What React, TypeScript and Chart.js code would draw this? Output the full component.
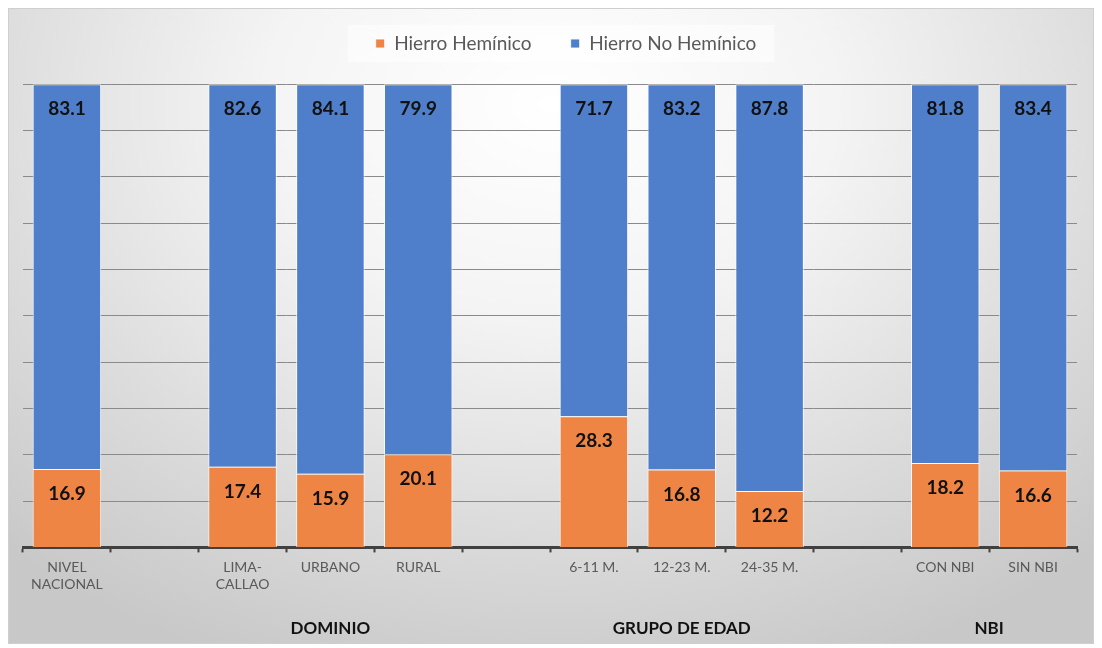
import React, { useEffect, useRef } from "react";
import { Chart, registerables } from "chart.js";

Chart.register(...registerables);

const categories: (string | string[])[] = [
  ["NIVEL", "NACIONAL"],
  "",
  ["LIMA-", "CALLAO"],
  "URBANO",
  "RURAL",
  "",
  "6-11 M.",
  "12-23 M.",
  "24-35 M.",
  "",
  "CON NBI",
  "SIN NBI",
];

const hemValues: (number | null)[] = [16.9, null, 17.4, 15.9, 20.1, null, 28.3, 16.8, 12.2, null, 18.2, 16.6];
const noHemValues: (number | null)[] = [83.1, null, 82.6, 84.1, 79.9, null, 71.7, 83.2, 87.8, null, 81.8, 83.4];

const seriesNames = ["Hierro Hemínico", "Hierro No Hemínico"];

const groupLabels = ["DOMINIO", "GRUPO DE EDAD", "NBI"];
const groupStart = [1, 6, 10];
const groupEnd = [5, 8, 11];

const FONT = "Lato, 'Open Sans', sans-serif";
const LEGEND_SHIFT = 16;

const legendShift = {
  id: "legendShift",
  afterLayout(chart: any) {
    const lg = chart.legend;
    if (!lg) return;
    lg.left += LEGEND_SHIFT;
    lg.right += LEGEND_SHIFT;
  },
};

const legendBg = {
  id: "legendBg",
  beforeDraw(chart: any) {
    const lg = chart.legend;
    if (!lg || !lg.legendHitBoxes || !lg.legendHitBoxes.length) return;
    const boxes = lg.legendHitBoxes;
    const l = Math.min(...boxes.map((b: any) => b.left)) - 28;
    const r = Math.max(...boxes.map((b: any) => b.left + b.width)) + 18;
    const ctx = chart.ctx;
    ctx.save();
    ctx.fillStyle = "rgba(255,255,255,0.55)";
    ctx.fillRect(l, lg.top + 1, r - l, lg.bottom - lg.top - 2);
    ctx.restore();
  },
};

const dataLabels = {
  id: "dataLabels",
  afterDatasetsDraw(chart: any) {
    const ctx = chart.ctx;
    ctx.save();
    ctx.font = `bold 19px ${FONT}`;
    ctx.fillStyle = "#111111";
    ctx.textAlign = "center";
    ctx.textBaseline = "middle";
    chart.data.datasets.forEach((ds: any, di: number) => {
      const meta = chart.getDatasetMeta(di);
      meta.data.forEach((el: any, i: number) => {
        const v = ds.data[i];
        if (v === null || v === undefined) return;
        ctx.fillText(v.toFixed(1), el.x, el.y + 25);
      });
    });
    ctx.restore();
  },
};

const groupLabelPlugin = {
  id: "groupLabels",
  afterDraw(chart: any) {
    const ctx = chart.ctx;
    const xs = chart.scales.x;
    ctx.save();
    ctx.font = `bold 17px ${FONT}`;
    ctx.fillStyle = "#111111";
    ctx.textAlign = "center";
    ctx.textBaseline = "middle";
    groupLabels.forEach((g, i) => {
      const x = (xs.getPixelForValue(groupStart[i]) + xs.getPixelForValue(groupEnd[i])) / 2;
      ctx.fillText(g, x, chart.chartArea.bottom + 81);
    });
    ctx.restore();
  },
};

export default function App() {
  const ref = useRef<HTMLCanvasElement>(null);
  useEffect(() => {
    if (!ref.current) return;
    const chart = new Chart(ref.current, {
      type: "bar",
      data: {
        labels: categories,
        datasets: [
          {
            label: seriesNames[0],
            data: hemValues,
            backgroundColor: "#EE8544",
            borderColor: "rgba(255,255,255,0.85)",
            borderWidth: 1,
            barPercentage: 0.78,
            categoryPercentage: 1,
          },
          {
            label: seriesNames[1],
            data: noHemValues,
            backgroundColor: "#4F7FCB",
            borderColor: "rgba(255,255,255,0.85)",
            borderWidth: 1,
            barPercentage: 0.78,
            categoryPercentage: 1,
          },
        ],
      },
      options: {
        animation: false,
        responsive: true,
        maintainAspectRatio: false,
        layout: { padding: { top: 15, left: 14, right: 16, bottom: 43 } },
        plugins: {
          legend: {
            display: true,
            position: "top",
            weight: 3000,
            labels: {
              boxWidth: 9,
              boxHeight: 9,
              padding: 10,
              color: "#595959",
              font: { family: FONT, size: 19 },
              generateLabels(chart: any) {
                const items = Chart.defaults.plugins.legend.labels.generateLabels(chart);
                return items.map((it: any, i: number) =>
                  i < items.length - 1 ? { ...it, text: it.text + "      " } : it
                );
              },
            },
          } as any,
          subtitle: {
            display: true,
            text: " ",
            font: { size: 1 },
            padding: { top: 0, bottom: 20 },
          },
          tooltip: { enabled: false },
        },
        scales: {
          x: {
            stacked: true,
            offset: true,
            grid: {
              display: true,
              offset: true,
              drawOnChartArea: false,
              drawTicks: true,
              tickLength: 5,
              tickWidth: 2,
              tickColor: "#404040",
            },
            border: { display: true, color: "#404040", width: 3 },
            ticks: {
              color: "#595959",
              font: { family: FONT, size: 14 },
              padding: 7,
              maxRotation: 0,
              autoSkip: false,
            },
          },
          y: {
            stacked: true,
            min: 0,
            max: 100,
            ticks: { display: false, stepSize: 10 },
            grid: { color: "#8a8a8a", lineWidth: 1, drawTicks: false },
            border: { display: false },
          },
        },
      },
      plugins: [legendShift, legendBg, dataLabels, groupLabelPlugin],
    });
    return () => chart.destroy();
  }, []);

  return (
    <div
      style={{
        width: 1086,
        height: 636,
        position: "relative",
        boxSizing: "border-box",
        border: "1px solid #cfcfcf",
        background:
          "radial-gradient(ellipse 75% 95% at 50% 15%, #ffffff 0%, #f4f4f4 35%, #dcdcdc 70%, #c8c8c8 100%)",
      }}
    >
      <canvas ref={ref} />
    </div>
  );
}
